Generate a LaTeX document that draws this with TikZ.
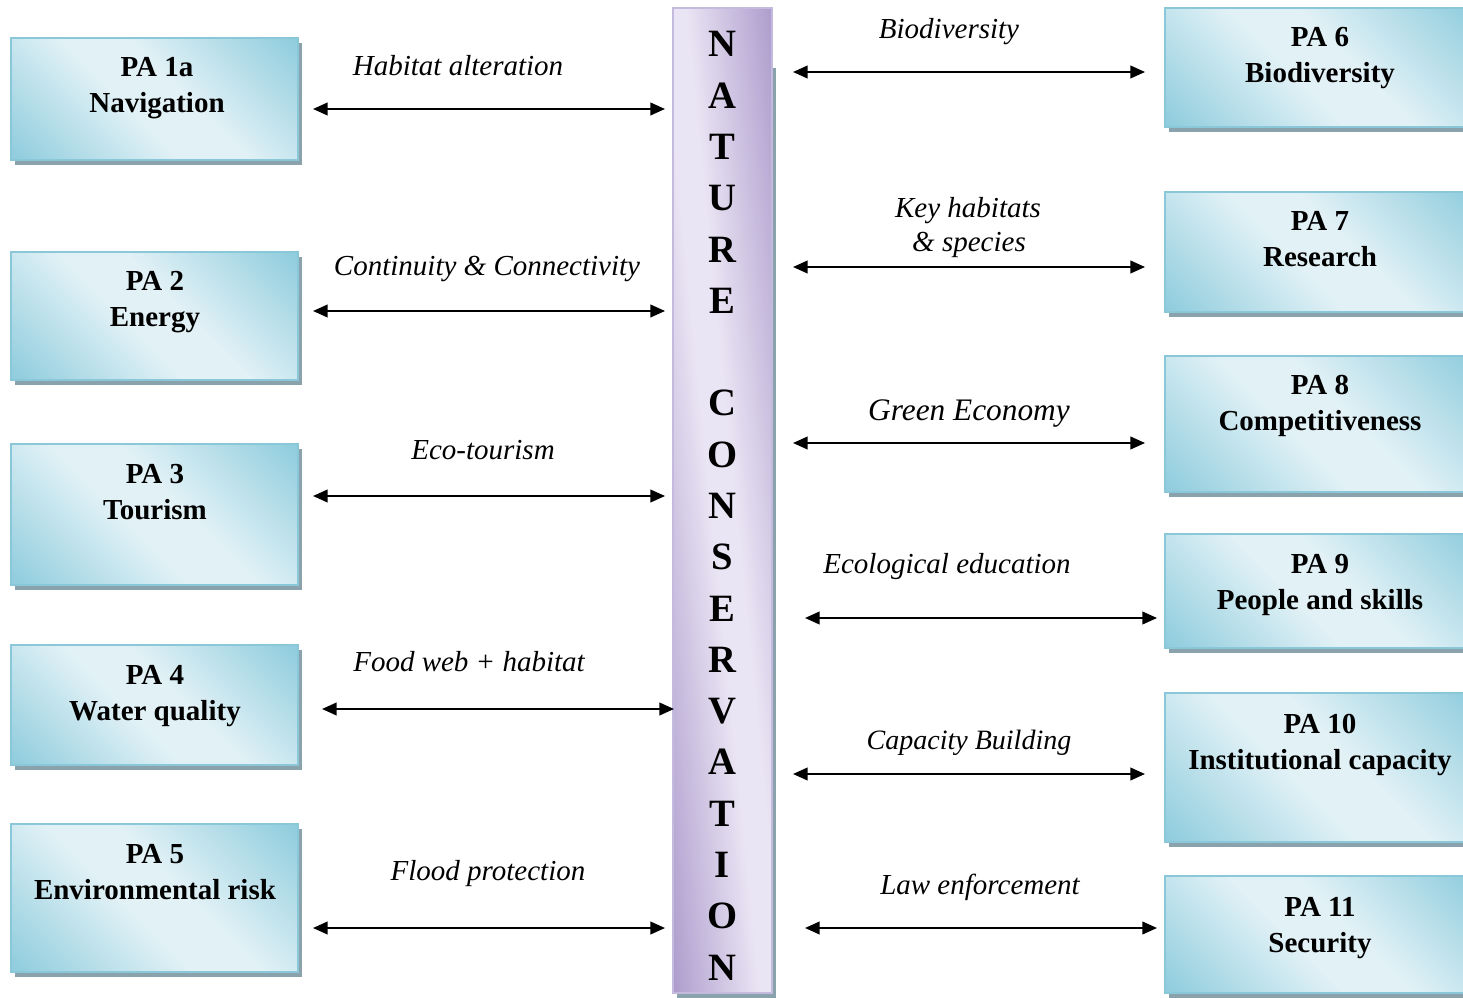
\documentclass[tikz,border=0pt]{standalone}
\usepackage{fontspec}
\setmainfont{Liberation Serif}
\usetikzlibrary{arrows.meta,fit,shadows}
\definecolor{bdark}{RGB}{140,203,220}
\definecolor{blight}{RGB}{225,241,246}
\definecolor{bborder}{RGB}{138,199,216}
\definecolor{shadowc}{RGB}{138,162,172}
\definecolor{pdark}{RGB}{174,157,205}
\definecolor{plight}{RGB}{234,229,244}
\definecolor{pborder}{RGB}{196,186,222}
\pgfdeclareverticalshading{boxshade}{100bp}{color(0bp)=(bdark); color(14bp)=(bdark); color(44bp)=(blight); color(56bp)=(blight); color(86bp)=(bdark); color(100bp)=(bdark)}
\pgfdeclareverticalshading{barshade}{100bp}{color(0bp)=(pdark); color(45.1bp)=(pdark); color(49.4bp)=(plight); color(50.6bp)=(plight); color(54.9bp)=(pdark); color(100bp)=(pdark)}
\tikzset{
  pabox/.style={rectangle, inner sep=0pt, draw=bborder, line width=1.2pt,
    shading=boxshade, shading angle=-45,
    drop shadow={shadow xshift=3pt, shadow yshift=-3.8pt, fill=shadowc, opacity=1}},
  bar/.style={rectangle, inner sep=0pt, draw=pborder, line width=1.2pt},
  patext/.style={font=\fontsize{21.75pt}{24pt}\selectfont\bfseries, anchor=base, inner sep=0pt},
  lbl/.style={font=\fontsize{21.75pt}{24pt}\selectfont\itshape, anchor=base, inner sep=0pt},
  barletter/.style={font=\fontsize{29pt}{32pt}\selectfont\bfseries, anchor=base, inner sep=0pt},
  link/.style={line width=1.5pt, {Triangle[length=11pt,width=9.5pt]}-{Triangle[length=11pt,width=9.5pt]}}
}
\begin{document}
\begin{tikzpicture}[x=0.75pt,y=-0.75pt]
\clip (0,0) rectangle (1463,998);
\fill[white] (0,0) rectangle (1463,998);

% central bar
\fill[shadowc] (677,68) rectangle (776,998);
\begin{scope}
  \clip (673,8) rectangle (772,993);
  \shade[shading=barshade, shading angle=-84.26] (222.5,0.5) rectangle (1222.5,1000.5);
\end{scope}
\node[bar, fit={(673,8) (772,993)}] (bar) {};
\foreach \ch [count=\i from 0] in {N,A,T,U,R,E,{},C,O,N,S,E,R,V,A,T,I,O,N}
  \node[barletter] (c\i) at (722.5,{57+\i*51.28}) {\ch};

% left boxes
\node[pabox, fit={(11,38) (298,160)}] (b1) {};
\node[pabox, fit={(11,252) (298,380)}] (b2) {};
\node[pabox, fit={(11,444) (298,585)}] (b3) {};
\node[pabox, fit={(11,645) (298,765)}] (b4) {};
\node[pabox, fit={(11,824) (298,972)}] (b5) {};
% right boxes
\node[pabox, fit={(1165,8) (1478,127)}] (b6) {};
\node[pabox, fit={(1165,192) (1478,312)}] (b7) {};
\node[pabox, fit={(1165,356) (1478,492)}] (b8) {};
\node[pabox, fit={(1165,534) (1478,648)}] (b9) {};
\node[pabox, fit={(1165,693) (1478,842)}] (b10) {};
\node[pabox, fit={(1165,876) (1478,993)}] (b11) {};

% box texts
\node[patext] (t1a) at (157,77) {PA 1a};
\node[patext] (t1b) at (157,113) {Navigation};
\node[patext] (t2a) at (155,291) {PA 2};
\node[patext] (t2b) at (155,327) {Energy};
\node[patext] (t3a) at (155,483) {PA 3};
\node[patext] (t3b) at (155,519) {Tourism};
\node[patext] (t4a) at (155,684) {PA 4};
\node[patext] (t4b) at (155,720) {Water quality};
\node[patext] (t5a) at (155,863) {PA 5};
\node[patext] (t5b) at (155,899) {Environmental risk};
\node[patext] (t6a) at (1320,47) {PA 6};
\node[patext] (t6b) at (1320,83) {Biodiversity};
\node[patext] (t7a) at (1320,231) {PA 7};
\node[patext] (t7b) at (1320,267) {Research};
\node[patext] (t8a) at (1320,395) {PA 8};
\node[patext] (t8b) at (1320,431) {Competitiveness};
\node[patext] (t9a) at (1320,573) {PA 9};
\node[patext] (t9b) at (1320,609) {People and skills};
\node[patext] (t10a) at (1320,733) {PA 10};
\node[patext] (t10b) at (1320,769) {Institutional capacity};
\node[patext] (t11a) at (1320,916) {PA 11};
\node[patext] (t11b) at (1320,952) {Security};

% connector end points
\coordinate (l1s) at (313,109);  \coordinate (l1e) at (665,109);
\coordinate (l2s) at (313,311);  \coordinate (l2e) at (665,311);
\coordinate (l3s) at (313,496);  \coordinate (l3e) at (665,496);
\coordinate (l4s) at (322,709);  \coordinate (l4e) at (674,709);
\coordinate (l5s) at (313,928);  \coordinate (l5e) at (665,928);
\coordinate (r6s) at (793,72);   \coordinate (r6e) at (1145,72);
\coordinate (r7s) at (793,267);  \coordinate (r7e) at (1145,267);
\coordinate (r8s) at (793,443);  \coordinate (r8e) at (1145,443);
\coordinate (r9s) at (805,618);  \coordinate (r9e) at (1157,618);
\coordinate (r10s) at (793,774); \coordinate (r10e) at (1145,774);
\coordinate (r11s) at (805,928); \coordinate (r11e) at (1157,928);

\foreach \a/\b in {l1s/l1e,l2s/l2e,l3s/l3e,l4s/l4e,l5s/l5e,r6s/r6e,r7s/r7e,r8s/r8e,r9s/r9e,r10s/r10e,r11s/r11e}
  \draw[link] (\a) -- (\b);

% labels
\node[lbl] (n1) at (458,76) {Habitat alteration};
\node[lbl] (n2) at (487,276) {Continuity \& Connectivity};
\node[lbl] (n3) at (483,459) {Eco-tourism};
\node[lbl] (n4) at (469,671) {Food web + habitat};
\node[lbl] (n5) at (488,880) {Flood protection};
\node[lbl] (n6) at (949,39) {Biodiversity};
\node[lbl] (n7a) at (968,218) {Key habitats};
\node[lbl] (n7b) at (969,252) {\& species};
\node[lbl, font=\fontsize{23.5pt}{26pt}\selectfont\itshape] (n8) at (969,420) {Green Economy};
\node[lbl] (n9) at (947,573) {Ecological education};
\node[lbl, font=\fontsize{21pt}{24pt}\selectfont\itshape] (n10) at (969,749) {Capacity Building};
\node[lbl] (n11) at (980,894) {Law enforcement};
\end{tikzpicture}
\end{document}
